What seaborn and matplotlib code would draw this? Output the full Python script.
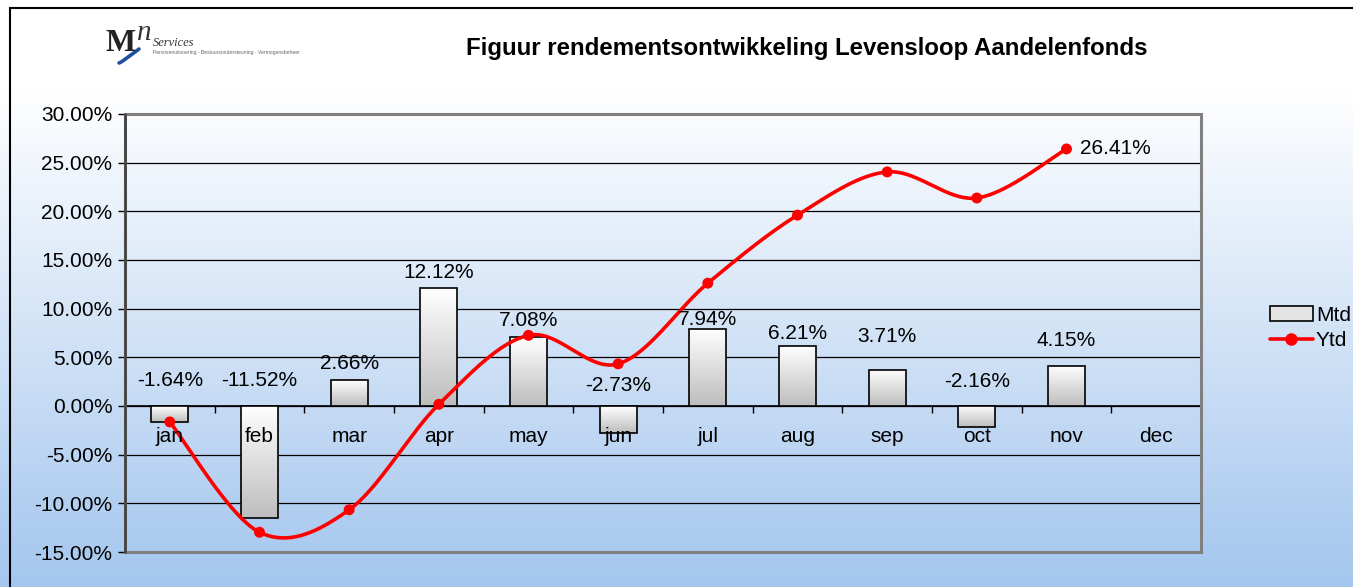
import numpy as np
import pandas as pd
import matplotlib
matplotlib.use("Agg")
import matplotlib.pyplot as plt
import seaborn as sns
from matplotlib.patches import Rectangle, Patch
from matplotlib.lines import Line2D
from matplotlib.colors import LinearSegmentedColormap
from matplotlib.transforms import offset_copy

# ---------------- data ----------------
months = ["jan", "feb", "mar", "apr", "may", "jun", "jul", "aug", "sep", "oct", "nov", "dec"]
mtd = [-1.64, -11.52, 2.66, 12.12, 7.08, -2.73, 7.94, 6.21, 3.71, -2.16, 4.15]
ytd = [-1.64, -12.97, -10.66, 0.17, 7.26, 4.33, 12.62, 19.61, 24.05, 21.37, 26.41]
mtd_label_y = [2.57, 2.57, 4.32, 13.67, 8.74, 2.06, 8.84, 7.40, 7.09, 2.47, 6.78]
y_ticks = [-15, -10, -5, 0, 5, 10, 15, 20, 25, 30]
title = "Figuur rendementsontwikkeling Levensloop Aandelenfonds"

sns.set_theme(style="white")
plt.rcParams["font.family"] = ["Liberation Sans", "DejaVu Sans"]
plt.rcParams["text.color"] = "black"
plt.rcParams["xtick.color"] = "black"
plt.rcParams["ytick.color"] = "black"

FS = 15
W, H = 1353, 587
fig = plt.figure(figsize=(W / 100, H / 100), dpi=100)

# background gradient (whole figure)
bg = fig.add_axes([0, 0, 1, 1], zorder=-10)
grad = np.linspace(0, 1, 256).reshape(-1, 1)
cmap_bg = LinearSegmentedColormap.from_list("bg", [(0, "#ffffff"), (0.15, "#ffffff"), (1, "#a4c6ee")])
bg.imshow(grad, aspect="auto", cmap=cmap_bg, extent=[0, 1, 0, 1], origin="upper")
bg.set_xlim(0, 1)
bg.set_ylim(0, 1)
bg.axis("off")

# figure border (left/top)
fig.add_artist(Rectangle((10 / W, -0.2), 1.5, 1 - 8 / H + 0.2, transform=fig.transFigure,
                         fill=False, edgecolor="black", lw=1.5))

# main axes
L, R, T, B = 125, 1201, 114, 552
ax = fig.add_axes([L / W, 1 - B / H, (R - L) / W, (B - T) / H])
ax.set_facecolor("none")

df = pd.DataFrame({"month": months[:len(mtd)], "mtd": mtd})
sns.barplot(data=df, x="month", y="mtd", order=months, width=0.41, color="white",
            edgecolor="black", linewidth=1.2, ax=ax, zorder=3)

cmap_bar = LinearSegmentedColormap.from_list("bar", ["#ffffff", "#bdbdbd"])
for p in list(ax.patches):
    x0, y0 = p.get_x(), p.get_y()
    w, h = p.get_width(), p.get_height()
    if not np.isfinite(h) or h == 0:
        continue
    im = ax.imshow(grad, cmap=cmap_bar, aspect="auto", origin="upper",
                   extent=[x0, x0 + w, min(y0, y0 + h), max(y0, y0 + h)], zorder=3)
    im.set_clip_path(p)
    p.set_facecolor("none")
    p.set_zorder(4)


def catmull_rom(xs, ys, n=40):
    P = np.column_stack([xs, ys]).astype(float)
    P = np.vstack([P[0], P, P[-1]])
    out = []
    t = np.linspace(0, 1, n)[:, None]
    for i in range(1, len(P) - 2):
        p0, p1, p2, p3 = P[i - 1], P[i], P[i + 1], P[i + 2]
        seg = 0.5 * ((2 * p1) + (-p0 + p2) * t + (2 * p0 - 5 * p1 + 4 * p2 - p3) * t ** 2
                     + (-p0 + 3 * p1 - 3 * p2 + p3) * t ** 3)
        out.append(seg)
    return np.vstack(out)


xs = np.arange(len(ytd))
curve = catmull_rom(xs, ytd)
ax.plot(curve[:, 0], curve[:, 1], color="#ff0000", lw=2.6, zorder=5, solid_capstyle="round")
sns.scatterplot(x=xs, y=ytd, color="#ff0000", s=62, edgecolor="none", zorder=6, ax=ax)

ax.set_xlim(-0.5, 11.5)
ax.set_ylim(-15, 30)

# y axis
ax.set_yticks(y_ticks)
ax.set_yticklabels([f"{v:.2f}%" for v in y_ticks], fontsize=FS)
ax.tick_params(axis="y", left=True, length=5, width=1, direction="out", color="black", pad=4)
ax.yaxis.grid(True, color="black", lw=0.9)
ax.set_axisbelow(True)
ax.set_ylabel("")
ax.set_xlabel("")

# x axis on zero line
ax.spines["bottom"].set_position(("data", 0))
ax.spines["bottom"].set_color("black")
ax.spines["bottom"].set_linewidth(1.2)
ax.set_xticks(range(12))
ax.set_xticklabels([""] * 12)
ax.set_xticks(np.arange(-0.5, 12, 1), minor=True)
ax.tick_params(axis="x", which="major", length=0)
ax.tick_params(axis="x", which="minor", bottom=True, length=5, width=1, direction="out", color="black")
for i, m in enumerate(months):
    ax.text(i, 0, m, ha="center", va="center", fontsize=FS, zorder=7,
            transform=offset_copy(ax.transData, fig, y=-31, units="dots"))

ax.spines["left"].set_color("#404040")
ax.spines["left"].set_linewidth(1.8)
for s in ["top", "right"]:
    ax.spines[s].set_visible(False)
ax.add_patch(Rectangle((0, 0), 1, 1, transform=ax.transAxes, fill=False,
                       edgecolor="#808080", lw=2.2, zorder=8, clip_on=False))
ax.plot([0, 0], [0, 1], transform=ax.transAxes, color="#404040", lw=1.8, zorder=9, clip_on=False)

# data labels
for i, (v, ly) in enumerate(zip(mtd, mtd_label_y)):
    ax.text(i, ly, f"{v:.2f}%", ha="center", va="center", fontsize=FS, zorder=7)
ax.text(len(ytd) - 1, ytd[-1], f"{ytd[-1]:.2f}%", ha="left", va="center", fontsize=FS, zorder=7,
        transform=offset_copy(ax.transData, fig, x=14, units="dots"))

# legend
handles = [Patch(facecolor="#e4e4e4", edgecolor="black", lw=1.2),
           Line2D([], [], color="#ff0000", lw=2.6, marker="o", ms=8)]
fig.legend(handles=handles, labels=["Mtd", "Ytd"], loc="center left",
           bbox_to_anchor=(1270 / W, 1 - 328 / H), frameon=False, fontsize=FS,
           handlelength=2.05, handletextpad=0.15, labelspacing=0.3, borderpad=0,
           borderaxespad=0)

# title
fig.text(807 / W, 1 - 48 / H, title, ha="center", va="center", fontsize=17.3, fontweight="bold")

# logo
fig.add_artist(Rectangle((100 / W, 1 - 70 / H), 240 / W, 50 / H, transform=fig.transFigure,
                         facecolor="white", edgecolor="none", alpha=0.9))
fig.text(106 / W, 1 - 51 / H, "M", fontsize=23, family="Liberation Serif", fontweight="bold",
         color="#222222", va="baseline")
fig.text(137 / W, 1 - 40 / H, "n", fontsize=21, family="Liberation Serif", style="italic",
         color="#333333", va="baseline")
fig.text(153 / W, 1 - 46 / H, "Services", fontsize=9, family="Liberation Serif", style="italic",
         color="#333333", va="baseline")
fig.text(153 / W, 1 - 54 / H, "Pensioenuitvoering - Bestuursondersteuning - Vermogensbeheer",
         fontsize=3.6, color="#666666", va="baseline")
tt = np.linspace(0, 1, 30)
sx = (119 + 20 * tt) / W
sy = 1 - (63 - 14 * tt ** 1.6 - 2 * np.sin(np.pi * tt)) / H
fig.add_artist(Line2D(sx, sy, transform=fig.transFigure, color="#1f4fa0", lw=2.6))

fig.savefig("out.png", dpi=100)
